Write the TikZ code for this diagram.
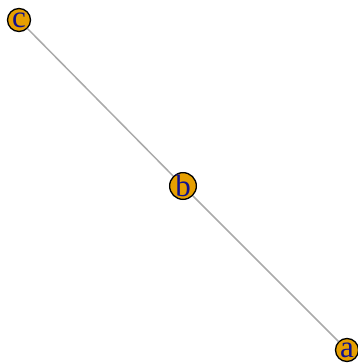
\documentclass[tikz,border=0pt]{standalone}
\usepackage{fontspec}
\setmainfont{Liberation Serif}
\definecolor{vfill}{HTML}{E69F00}
\definecolor{vlab}{HTML}{10108F}
\definecolor{edgec}{HTML}{AAAAAA}
\begin{document}
\begin{tikzpicture}[x=1pt,y=1pt,
  vert/.style={circle,draw=black,line width=1.3pt,fill=vfill,minimum size=23pt,inner sep=0pt,
    text=vlab,font=\fontsize{31}{31}\selectfont},
  edge/.style={draw=edgec,line width=1.5pt}]
\useasboundingbox (0,0) rectangle (358,364);
\node[vert] (c) at (19,344) {\raisebox{-1.5pt}{c}};
\node[vert] (b) at (183,178) {\raisebox{-1.5pt}{b}};
\node[vert] (a) at (347,14) {\raisebox{-1.5pt}{a}};
\draw[edge] (c) -- (b);
\draw[edge] (b) -- (a);
\end{tikzpicture}
\end{document}
